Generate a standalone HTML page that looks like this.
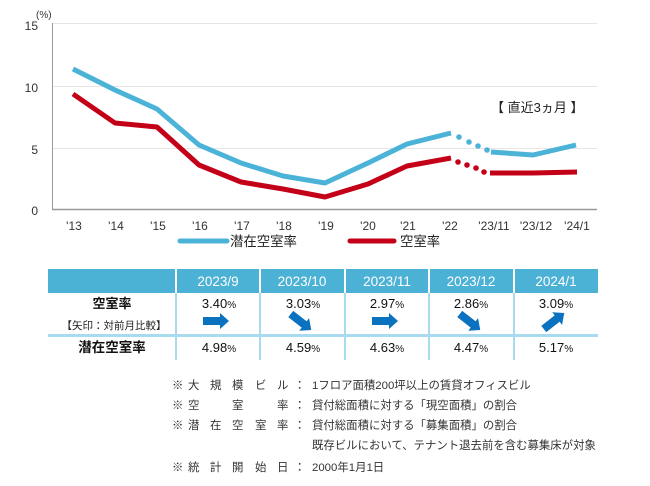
<!DOCTYPE html>
<html><head><meta charset="utf-8"><style>
html,body{margin:0;padding:0;background:#fff;}
svg{display:block;}
text{font-family:"Liberation Sans","Noto Sans CJK JP",sans-serif;}
.jp{font-family:"Liberation Sans","Noto Sans CJK JP",sans-serif;}
.num{font-family:"DejaVu Sans","Liberation Sans",sans-serif;}
</style></head><body>
<svg width="650" height="486" viewBox="0 0 650 486" xmlns="http://www.w3.org/2000/svg">
<!-- grid -->
<g stroke="#e6e6e6" stroke-width="1">
<line x1="52" y1="23.5" x2="597" y2="23.5"/>
<line x1="52" y1="86.5" x2="597" y2="86.5"/>
<line x1="52" y1="148.5" x2="597" y2="148.5"/>
</g>
<!-- axes -->
<line x1="52.5" y1="23" x2="52.5" y2="209" stroke="#999" stroke-width="1"/>
<line x1="52" y1="209.5" x2="597" y2="209.5" stroke="#999" stroke-width="1.5"/>
<!-- y labels -->
<g font-size="12" fill="#333" text-anchor="end">
<text x="38" y="30">15</text>
<text x="38" y="92">10</text>
<text x="38" y="154">5</text>
<text x="38" y="215">0</text>
</g>
<text x="36" y="18" font-size="10" fill="#333" class="jp">(%)</text>
<!-- x labels -->
<g font-size="12" fill="#333" text-anchor="middle">
<text x="74" y="230">'13</text>
<text x="116" y="230">'14</text>
<text x="158" y="230">'15</text>
<text x="200" y="230">'16</text>
<text x="242" y="230">'17</text>
<text x="284" y="230">'18</text>
<text x="326" y="230">'19</text>
<text x="368" y="230">'20</text>
<text x="408" y="230">'21</text>
<text x="450" y="230">'22</text>
<text x="494" y="230">'23/11</text>
<text x="536" y="230">'23/12</text>
<text x="577" y="230">'24/1</text>
</g>
<!-- blue series -->
<polyline fill="none" stroke="#4cb3d8" stroke-width="5" stroke-linejoin="round" points="73,69 115,90 157,109 199,145 241,163 283,176 325,183 368,163 407,144 451,133"/>
<g fill="#4cb3d8">
<circle cx="459" cy="137" r="2.8"/><circle cx="469" cy="142" r="2.8"/><circle cx="478" cy="146" r="2.8"/><circle cx="487" cy="150" r="2.8"/>
</g>
<polyline fill="none" stroke="#4cb3d8" stroke-width="5" stroke-linejoin="round" points="491,152 533,155 576,145"/>
<!-- red series -->
<polyline fill="none" stroke="#c40018" stroke-width="5" stroke-linejoin="round" points="73,94 115,123 157,127 199,165 241,182 283,189 325,197 368,184 407,166 451,158"/>
<g fill="#c40018">
<circle cx="458" cy="162" r="2.8"/><circle cx="467" cy="165" r="2.8"/><circle cx="476" cy="168" r="2.8"/><circle cx="484" cy="172" r="2.8"/>
</g>
<polyline fill="none" stroke="#c40018" stroke-width="5" stroke-linejoin="round" points="490,173 533,173 577,172"/>
<!-- annotation -->
<text x="491" y="112" font-size="13" fill="#222" class="jp">【 直近3ヵ月 】</text>
<!-- legend -->
<line x1="180" y1="241" x2="227" y2="241" stroke="#4cb3d8" stroke-width="5" stroke-linecap="round"/>
<text x="230" y="246" font-size="13.4" fill="#222" class="jp">潜在空室率</text>
<line x1="350" y1="241" x2="394" y2="241" stroke="#c40018" stroke-width="5" stroke-linecap="round"/>
<text x="400" y="246" font-size="13.4" fill="#222" class="jp">空室率</text>

<!-- table -->
<rect x="48" y="269" width="550" height="24" fill="#4bb1d5"/>
<g fill="#fff">
<rect x="175" y="269" width="2" height="24"/>
<rect x="259" y="269" width="2" height="24"/>
<rect x="344" y="269" width="2" height="24"/>
<rect x="428" y="269" width="2" height="24"/>
<rect x="513" y="269" width="2" height="24"/>
</g>
<g fill="#a9dbef">
<rect x="175" y="293" width="2" height="67"/>
<rect x="259" y="293" width="2" height="67"/>
<rect x="344" y="293" width="2" height="67"/>
<rect x="428" y="293" width="2" height="67"/>
<rect x="513" y="293" width="2" height="67"/>
<rect x="48" y="334" width="550" height="3"/>
</g>
<g font-size="13.5" fill="#fff" text-anchor="middle" class="num">
<text x="218" y="286">2023/9</text>
<text x="302" y="286">2023/10</text>
<text x="387" y="286">2023/11</text>
<text x="471" y="286">2023/12</text>
<text x="556" y="286">2024/1</text>
</g>
<text x="112" y="308" font-size="13" font-weight="bold" fill="#111" text-anchor="middle" class="jp">空室率</text>
<text x="114" y="329" font-size="10.5" fill="#222" text-anchor="middle" class="jp">【矢印：対前月比較】</text>
<text x="112" y="352" font-size="13.5" font-weight="bold" fill="#111" text-anchor="middle" class="jp">潜在空室率</text>
<g font-size="13" fill="#111" text-anchor="middle" class="num">
<text x="219" y="308">3.40<tspan font-size="10">%</tspan></text>
<text x="303" y="308">3.03<tspan font-size="10">%</tspan></text>
<text x="387" y="308">2.97<tspan font-size="10">%</tspan></text>
<text x="471" y="308">2.86<tspan font-size="10">%</tspan></text>
<text x="556" y="308">3.09<tspan font-size="10">%</tspan></text>
<text x="219" y="352">4.98<tspan font-size="10">%</tspan></text>
<text x="303" y="352">4.59<tspan font-size="10">%</tspan></text>
<text x="387" y="352">4.63<tspan font-size="10">%</tspan></text>
<text x="471" y="352">4.47<tspan font-size="10">%</tspan></text>
<text x="556" y="352">5.17<tspan font-size="10">%</tspan></text>
</g>
<!-- arrows -->
<g fill="#0a72be">
<path transform="translate(216,321)" d="M-13,-4 L4,-4 L4,-8 L13,0 L4,8 L4,4 L-13,4 Z"/>
<path transform="translate(301,322) rotate(38)" d="M-13,-4 L4,-4 L4,-8 L13,0 L4,8 L4,4 L-13,4 Z"/>
<path transform="translate(385,321)" d="M-13,-4 L4,-4 L4,-8 L13,0 L4,8 L4,4 L-13,4 Z"/>
<path transform="translate(470,322) rotate(38)" d="M-13,-4 L4,-4 L4,-8 L13,0 L4,8 L4,4 L-13,4 Z"/>
<path transform="translate(554,321) rotate(-38)" d="M-13,-4 L4,-4 L4,-8 L13,0 L4,8 L4,4 L-13,4 Z"/>
</g>

<!-- footnotes -->
<g font-size="11.4" fill="#333" class="jp">
<text x="172" y="389">※</text><text x="188" y="389">大</text><text x="210" y="389">規</text><text x="232" y="389">模</text><text x="255" y="389">ビ</text><text x="277" y="389">ル</text><text x="294" y="389">：</text>
<text x="312" y="389">1フロア面積200坪以上の賃貸オフィスビル</text>
<text x="172" y="409">※</text><text x="188" y="409">空</text><text x="232" y="409">室</text><text x="277" y="409">率</text><text x="294" y="409">：</text>
<text x="312" y="409">貸付総面積に対する「現空面積」の割合</text>
<text x="172" y="429">※</text><text x="188" y="429">潜</text><text x="210" y="429">在</text><text x="232" y="429">空</text><text x="255" y="429">室</text><text x="277" y="429">率</text><text x="294" y="429">：</text>
<text x="312" y="429">貸付総面積に対する「募集面積」の割合</text>
<text x="312" y="449">既存ビルにおいて、テナント退去前を含む募集床が対象</text>
<text x="172" y="471">※</text><text x="188" y="471">統</text><text x="210" y="471">計</text><text x="232" y="471">開</text><text x="255" y="471">始</text><text x="277" y="471">日</text><text x="294" y="471">：</text>
<text x="312" y="471">2000年1月1日</text>
</g>
</svg>
</body></html>
